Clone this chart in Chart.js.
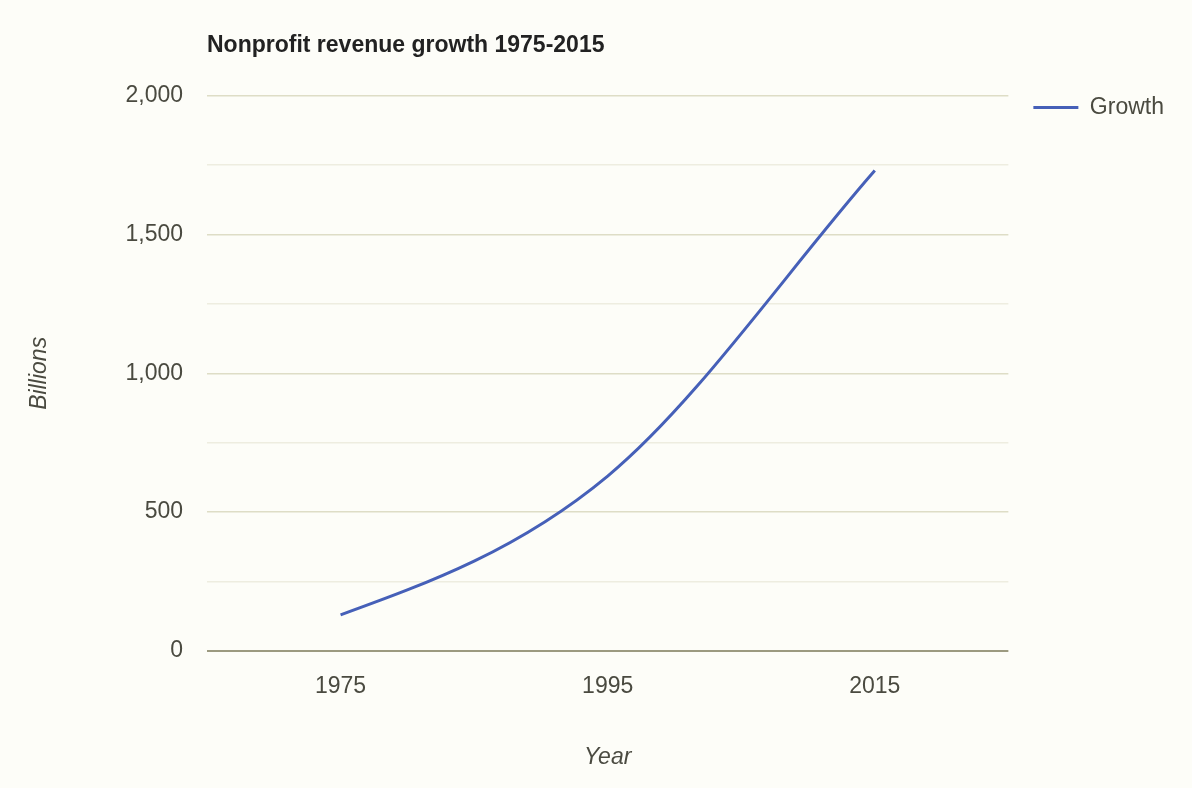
<!DOCTYPE html>
<html>
<head>
<meta charset="utf-8">
<script src="https://cdn.jsdelivr.net/npm/chart.js"></script>
<style>
  html, body { margin: 0; padding: 0; background: #fdfdf8; }
  #wrap { width: 1192px; height: 788px; }
</style>
</head>
<body>
<div id="wrap"><canvas id="growthChart"></canvas></div>
<script>
// Datos del grafico
const years = ['1975', '1995', '2015'];
const growth = [130, 630, 1730];
const yTicks = [0, 500, 1000, 1500, 2000];

const textColor = '#4a4a40';
const fontFamily = '"Liberation Sans", Arial, sans-serif';

// Suaviza el primer tramo sin inflexion (extremo "natural")
const naturalStart = {
    id: 'naturalStart',
    beforeDatasetDraw(chart, args) {
        const line = args.meta.dataset;
        const pts = args.meta.data;
        if (!line || pts.length < 2) return;
        line.updateControlPoints(chart.chartArea, 'x');
        const p0 = pts[0], p1 = pts[1];
        p0.cp2x = (p0.x + p1.cp1x) / 2;
        p0.cp2y = (p0.y + p1.cp1y) / 2;
    }
};

const ctx = document.getElementById('growthChart').getContext('2d');
new Chart(ctx, {
    type: 'line',
    data: {
        labels: years,
        datasets: [{
            label: 'Growth',
            data: growth,
            borderColor: '#4660b8',
            backgroundColor: '#4660b8',
            borderWidth: 3,
            pointRadius: 0,
            cubicInterpolationMode: 'monotone',
            fill: false
        }]
    },
    plugins: [naturalStart],
    options: {
        responsive: true,
        maintainAspectRatio: false,
        animation: false,
        layout: { padding: { right: 18 } },
        plugins: {
            title: {
                display: true,
                text: 'Nonprofit revenue growth 1975-2015',
                align: 'start',
                fullSize: false,
                color: '#222',
                font: { family: fontFamily, size: 23, weight: 'bold' },
                padding: { top: 32, bottom: 36 }
            },
            legend: {
                position: 'right',
                align: 'start',
                title: {
                    display: true,
                    text: ' ',
                    font: { size: 10 },
                    padding: { top: 59, bottom: 0 }
                },
                labels: {
                    boxWidth: 45,
                    boxHeight: 3,
                    padding: 25,
                    color: textColor,
                    font: { family: fontFamily, size: 23 },
                    generateLabels: (chart) => {
                        const ds = chart.data.datasets[0];
                        return [{
                            text: ds.label,
                            fillStyle: ds.borderColor,
                            strokeStyle: ds.borderColor,
                            lineWidth: 0,
                            fontColor: textColor,
                            datasetIndex: 0
                        }];
                    }
                }
            },
            tooltip: { enabled: false }
        },
        scales: {
            x: {
                offset: true,
                grid: { display: false },
                border: { display: false },
                ticks: {
                    color: textColor,
                    padding: 14,
                    font: { family: fontFamily, size: 23 }
                },
                title: {
                    display: true,
                    text: 'Year',
                    color: textColor,
                    font: { family: fontFamily, size: 23, style: 'italic' },
                    padding: { top: 0, bottom: 17 }
                },
                afterFit: (scale) => { scale.height = 137; }
            },
            y: {
                min: 0,
                max: 2000,
                border: { display: false },
                grid: {
                    drawTicks: false,
                    lineWidth: (c) => c.tick && c.tick.value === 0 ? 2 : 1.5,
                    color: (c) => {
                        const v = c.tick ? c.tick.value : 0;
                        if (v === 0) return '#9c9a80';
                        if (yTicks.includes(v)) return '#deddc6';
                        return '#eeede0';
                    }
                },
                ticks: {
                    stepSize: 250,
                    padding: 24,
                    color: textColor,
                    font: { family: fontFamily, size: 23 },
                    callback: (value) => yTicks.includes(value) ? value.toLocaleString('en-US') : ''
                },
                title: {
                    display: true,
                    text: 'Billions',
                    color: textColor,
                    font: { family: fontFamily, size: 23, style: 'italic' },
                    padding: { top: 26, bottom: 0 }
                },
                afterFit: (scale) => { scale.width = 207; }
            }
        }
    }
});
</script>
</body>
</html>
